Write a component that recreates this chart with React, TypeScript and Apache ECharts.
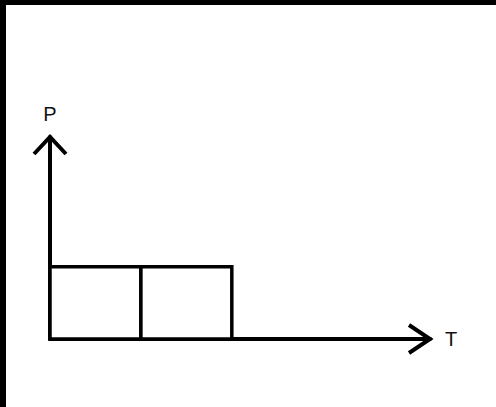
import React, { useEffect, useRef } from "react";
import * as echarts from "echarts";

// Data: two adjacent rectangles in the P–T plane
const T_STARTS = [0, 1];
const T_ENDS = [1, 2];
const P_VALUES = [1, 1];
const AXIS_NAMES = ["T", "P"];
const T_MAX = 4.18;
const P_MAX = 2.8;

export default function App() {
  const ref = useRef<HTMLDivElement>(null);

  useEffect(() => {
    if (!ref.current) return;
    document.body.style.margin = "0";
    const chart = echarts.init(ref.current, undefined, { renderer: "svg" });

    const rectData = T_STARTS.map((t0, i) => [t0, T_ENDS[i], P_VALUES[i]]);
    const arrowData = [
      [T_MAX, 0, 0],
      [0, P_MAX, 1],
    ];

    chart.setOption({
      animation: false,
      backgroundColor: "#ffffff",
      grid: { left: 50, right: 66, top: 137, bottom: 68 },
      xAxis: {
        type: "value",
        min: 0,
        max: T_MAX,
        name: AXIS_NAMES[0],
        nameLocation: "end",
        nameGap: 15,
        nameTextStyle: {
          color: "#111",
          fontSize: 20,
          fontFamily: "Liberation Sans, Arial, sans-serif",
          verticalAlign: "middle",
        },
        axisLine: { show: true, lineStyle: { color: "#000", width: 4 } },
        axisTick: { show: false },
        axisLabel: { show: false },
        splitLine: { show: false },
      },
      yAxis: {
        type: "value",
        min: 0,
        max: P_MAX,
        name: AXIS_NAMES[1],
        nameLocation: "end",
        nameGap: 13,
        nameTextStyle: {
          color: "#111",
          fontSize: 20,
          fontFamily: "Liberation Sans, Arial, sans-serif",
          align: "center",
        },
        axisLine: { show: true, lineStyle: { color: "#000", width: 4 } },
        axisTick: { show: false },
        axisLabel: { show: false },
        splitLine: { show: false },
      },
      series: [
        {
          type: "custom",
          data: rectData,
          renderItem: (params: any, api: any) => {
            const p0 = api.coord([api.value(0), 0]);
            const p1 = api.coord([api.value(1), api.value(2)]);
            return {
              type: "rect",
              shape: {
                x: p0[0],
                y: p1[1],
                width: p1[0] - p0[0],
                height: p0[1] - p1[1],
              },
              style: { fill: "#fff", stroke: "#000", lineWidth: 3.5 },
            };
          },
          z: 3,
        },
        {
          type: "custom",
          data: arrowData,
          renderItem: (params: any, api: any) => {
            const tip = api.coord([api.value(0), api.value(1)]);
            const horizontal = api.value(2) === 0;
            const pts = horizontal
              ? [
                  [tip[0] - 21, tip[1] - 14],
                  [tip[0], tip[1]],
                  [tip[0] - 21, tip[1] + 14],
                ]
              : [
                  [tip[0] - 16, tip[1] + 17],
                  [tip[0], tip[1]],
                  [tip[0] + 16, tip[1] + 17],
                ];
            return {
              type: "polyline",
              shape: { points: pts },
              style: { fill: "none", stroke: "#000", lineWidth: 4 },
            };
          },
          z: 4,
        },
      ],
    });

    return () => chart.dispose();
  }, []);

  return (
    <div style={{ position: "fixed", left: 0, top: 0, width: 496, height: 407, background: "#fff" }}>
      <div ref={ref} style={{ position: "absolute", left: 0, top: 0, width: 496, height: 407 }} />
      <div style={{ position: "absolute", left: 0, top: 0, width: 496, height: 5, background: "#000" }} />
      <div style={{ position: "absolute", left: 0, top: 0, width: 6, height: 407, background: "#000" }} />
    </div>
  );
}
